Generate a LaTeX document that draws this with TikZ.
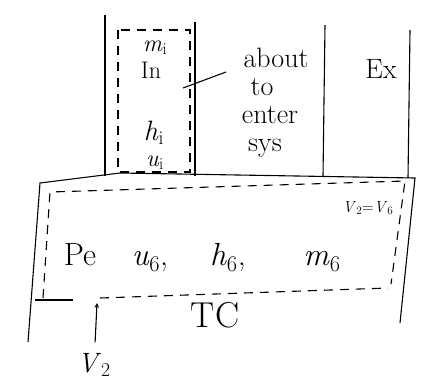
\documentclass[tikz,border=0pt]{standalone}
\usepackage{fontspec}
\usepackage{tikz}
\usetikzlibrary{positioning}

\newcommand{\sub}[2]{\textit{#1}\textsubscript{#2}}

\begin{document}
\begin{tikzpicture}[x=1pt, y=-1pt, >=stealth, line width=1.1pt,
    hand/.style={font=\fontsize{24}{26}\selectfont, inner sep=0pt, anchor=base},
    word/.style={font=\fontsize{28}{30}\selectfont, inner sep=0pt, anchor=base},
    big/.style={font=\fontsize{32}{34}\selectfont, inner sep=0pt, anchor=base},
    cvline/.style={dashed, dash pattern=on 9pt off 7pt}]
  \useasboundingbox (0,0) rectangle (425,381);
  % 1. Upper cylinder: inlet, about to enter, exhaust
  \draw (105,15) -- (105,176);
  \draw (195,22) -- (195,176);
  \draw (325,25) -- (323,176);
  \draw (410,30) -- (408,178);
  \draw[cvline] (118,30) rectangle (190,172);
  \node[hand] (mi) at (155,51) {\sub{m}{i}};
  \node[hand] (in) at (151,78) {In};
  \node[word] (hi) at (154,140) {\sub{h}{i}};
  \node[hand] (ui) at (155,166) {\sub{u}{i}};
  \node[word] (about) at (276,67) {about};
  \node[word] (to) at (262,95) {to};
  \node[word] (enter) at (270,123) {enter};
  \node[word] (sys) at (265,151) {sys};
  \node[word] (ex) at (381,78) {Ex};
  \draw (183,88) -- (226,72);
  % 2. Lower tank
  \draw (28,342) -- (40,183) -- (120,173) -- (415,178) -- (400,323);
  \draw[cvline] (43,298) -- (50,192) -- (405,181) -- (391,284);
  \draw (35,300) -- (73,300);
  \draw[cvline] (100,298) -- (388,288);
  \node[font=\fontsize{16}{18}\selectfont, inner sep=0pt] (v26) at (368,208) {\sub{V}{2}=\sub{V}{6}};
  \node[big] (pe) at (80,265) {Pe};
  \node[big] (u6) at (150,265) {\sub{u}{6},};
  \node[big] (h6) at (228,265) {\sub{h}{6},};
  \node[big] (m6) at (322,265) {\sub{m}{6}};
  \node[big, font=\fontsize{36}{38}\selectfont] (tc) at (215,327) {TC};
  \node[big, font=\fontsize{28}{30}\selectfont] (v2) at (94,372) {\sub{V}{2}};
  \coordinate (tip) at (97,303);
  \draw[->, shorten <=10pt] (v2) -- (tip);
\end{tikzpicture}
\end{document}
